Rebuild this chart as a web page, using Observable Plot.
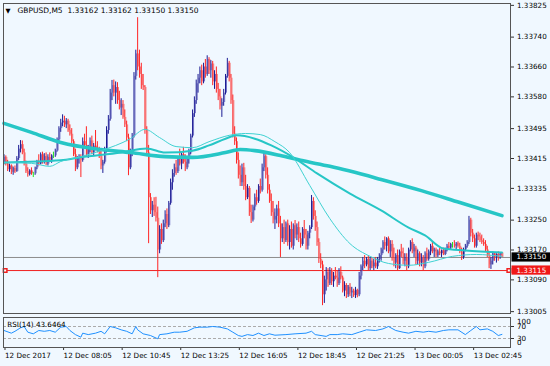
<!DOCTYPE html>
<html><head><meta charset="utf-8">
<script src="https://cdn.jsdelivr.net/npm/d3@7"></script>
<script src="https://cdn.jsdelivr.net/npm/@observablehq/plot@0.6"></script>
<style>
html,body{margin:0;padding:0;background:#f0f8ff;}
#chart svg{display:block;}
</style></head><body><div id="chart"></div>
<script>
// ---- data ----
const symbol = "GBPUSD,M5";
const base = 1.33; // bar prices stored in points (0.00001) above 1.33000
const opens = [
405,418,400,385,395,378,388,380,415,440,
452,430,400,380,372,382,374,374,390,405,
400,425,405,420,400,418,410,422,422,435,
465,495,510,515,505,515,490,480,460,425,
390,415,420,410,460,450,425,440,462,430,
448,442,435,420,395,405,440,490,520,590,
610,590,605,570,550,560,525,505,470,390,
430,475,635,695,660,640,610,605,490,430,
310,275,290,270,255,170,225,195,240,265,
235,295,350,375,390,380,415,400,425,405,
390,415,430,475,535,570,615,630,650,620,
660,640,680,650,668,620,640,600,580,555,
565,590,635,670,630,570,480,460,410,370,
350,390,340,310,335,270,250,285,310,300,
340,330,390,420,370,330,300,270,250,260,
280,240,200,230,195,240,190,225,180,235,
210,230,200,185,225,210,180,215,230,300,
260,230,190,145,130,50,90,110,80,115,
85,100,95,80,110,95,60,75,50,70,
55,60,48,62,50,100,125,140,130,145,
120,140,125,135,125,145,155,170,190,180,
200,165,185,150,135,155,120,165,160,140,
150,125,170,190,165,175,140,160,135,150,
125,160,145,165,180,165,170,155,165,160,
168,158,172,180,175,185,185,180,188,180,
165,150,170,180,190,250,215,200,180,210,
205,195,190,185,170,155,130,140,160,150,
158,155,162];
const highs = [
425,422,410,400,398,392,395,420,450,463,
462,440,408,390,385,390,378,392,410,425,
430,432,428,430,425,430,425,432,440,470,
500,520,532,528,522,520,505,495,465,440,
420,425,425,470,480,500,450,470,475,455,
490,460,445,440,410,445,500,530,600,624,
625,620,618,595,575,570,545,515,480,440,
482,645,705,792,705,670,640,610,500,450,
321,300,310,311,285,235,240,250,275,280,
300,360,385,400,410,420,440,430,445,425,
420,440,480,545,580,625,640,660,665,670,
680,690,685,677,675,650,660,616,600,575,
600,640,683,675,640,585,500,470,430,395,
400,402,370,345,340,290,290,320,330,345,
360,400,430,425,390,345,320,300,280,290,
300,260,240,250,245,250,235,245,240,249,
240,245,215,230,249,225,220,235,316,310,
275,245,200,160,140,100,123,120,123,120,
110,123,115,120,125,100,85,80,75,80,
70,65,70,65,110,130,150,155,150,155,
150,150,145,150,150,160,175,195,205,203,
205,195,195,175,160,170,170,185,175,160,
160,175,195,200,185,180,170,165,160,155,
165,175,170,185,190,175,175,170,175,170,
175,175,185,190,188,190,195,190,192,188,
175,175,185,195,260,255,225,210,215,218,
215,210,200,195,180,165,150,165,162,160,
165,162,162];
const lows = [
398,395,380,378,372,370,375,378,410,430,
425,395,375,365,368,370,364,370,385,395,
398,400,400,396,395,405,402,415,418,432,
460,485,500,498,495,485,475,455,420,380,
385,400,364,405,440,418,415,430,425,420,
438,430,415,385,375,400,430,480,515,570,
580,560,560,545,530,520,498,460,369,385,
420,470,625,650,630,600,597,480,420,187,
265,257,260,245,96,160,185,190,230,225,
230,290,330,365,370,375,395,385,400,380,
385,400,425,470,525,560,590,615,610,615,
630,635,640,630,610,600,590,570,545,525,
555,585,630,620,560,470,450,400,360,340,
340,330,302,305,260,241,245,275,290,295,
320,325,380,360,320,295,260,240,225,240,
230,150,190,185,190,180,170,175,170,200,
195,190,175,180,200,170,170,200,225,250,
220,180,134,120,21,27,60,70,75,75,
70,90,70,75,90,55,45,40,43,45,
40,43,40,42,45,90,115,120,125,115,
115,120,115,120,118,135,140,160,170,165,
160,150,140,125,120,115,118,150,130,125,
115,120,165,160,150,130,130,125,125,115,
120,140,140,155,160,150,150,150,155,150,
155,155,165,170,170,175,175,170,175,160,
142,145,165,175,185,205,190,175,175,195,
190,185,180,165,150,120,118,130,140,135,
140,145,150];
const closes = [
418,400,385,395,378,388,380,415,440,452,
430,400,380,372,382,374,374,390,405,400,
425,405,420,400,418,410,422,422,435,465,
495,510,515,505,515,490,480,460,425,390,
415,420,410,460,450,425,440,462,430,448,
442,435,420,395,405,440,490,520,590,610,
590,605,570,550,560,525,505,470,390,430,
475,635,695,660,640,610,605,490,430,310,
275,290,270,255,170,225,195,240,265,235,
295,350,375,390,380,415,400,425,405,390,
415,430,475,535,570,615,630,650,620,660,
640,680,650,668,620,640,600,580,555,565,
590,635,670,630,570,480,460,410,370,350,
390,340,310,335,270,250,285,310,300,340,
330,390,420,370,330,300,270,250,260,280,
240,200,230,195,240,190,225,180,235,210,
230,200,185,225,210,180,215,230,300,260,
230,190,145,130,50,90,110,80,115,85,
100,95,80,110,95,60,75,50,70,55,
60,48,62,50,100,125,140,130,145,120,
140,125,135,125,145,155,170,190,180,200,
165,185,150,135,155,120,165,160,140,150,
125,170,190,165,175,140,160,135,150,125,
160,145,165,180,165,170,155,165,160,168,
158,172,180,175,185,185,180,188,180,165,
150,170,180,190,250,215,200,180,210,205,
195,190,185,170,155,130,140,160,150,158,
155,162,150];

// moving averages (bar index, price)
const maSlowIdx = [0,15,31,53,69,88,103,121,129,137,151,162,178,206,228,249,272];
const maSlowVal = [1.33509,1.33485,1.33458,1.33439,1.33431,1.33420,1.33418,1.33431,1.33439,1.33436,1.33423,1.33410,1.33394,1.33359,1.33329,1.33297,1.33262];
const maMidIdx = [0,31,42,64,78,88,103,112,121,127,137,146,158,171,189,206,221,230,240,252,272];
const maMidVal = [1.33404,1.33410,1.33418,1.33431,1.33442,1.33431,1.33436,1.33450,1.33468,1.33477,1.33468,1.33450,1.33418,1.33375,1.33321,1.33276,1.33230,1.33209,1.33174,1.33169,1.33163];
const maFastIdx = [0,15,25,31,42,53,69,77,85,94,103,112,123,132,140,148,156,167,178,189,200,210,221,232,245,258,272];
const maFastVal = [1.33404,1.33402,1.33394,1.33407,1.33420,1.33436,1.33468,1.33493,1.33471,1.33447,1.33444,1.33460,1.33477,1.33482,1.33479,1.33460,1.33431,1.33343,1.33254,1.33187,1.33153,1.33134,1.33129,1.33137,1.33153,1.33158,1.33153];

// RSI(14)
const rsiIdx = [0,4,6,9,11,13,16,19,22,25,28,31,34,36,39,42,43,46,50,53,55,58,61,64,67,70,72,73,76,80,84,85,89,93,96,100,104,107,111,114,118,122,125,128,130,133,136,139,142,145,148,154,159,165,168,170,176,178,182,185,190,194,198,203,207,210,214,218,221,225,229,232,236,240,243,248,252,255,258,260,264,267,270,272];
const rsiVal = [56.7,47.8,54,65.6,70,51,45.6,56.7,54,56.7,51,67.8,70,56.7,43,34.4,47.8,43,47.8,54,45.6,70,65.6,58.9,54,45.6,70,58.9,45.6,40,29,43,45.6,51,51,54,65.6,67.8,67.8,70,67.8,62,51,40,37,43,40,47.8,40,45.6,41,43,45.6,47.8,54,43,37,43,43,45.6,43,51,58.9,56.7,62,70,56.7,51,47.8,54,51,54,51,56.7,58.9,58.9,43,56.7,70,58.9,62,54,40,43.6];
const rsiLast = "43.6464";
const rsiLevels = [70, 30];
const rsiBounds = [100, 0];

const priceTicks = [1.33825,1.33740,1.33660,1.33580,1.33495,1.33415,1.33335,1.33250,1.33170,1.33090,1.33005];
const bidPrice = 1.33150;
const linePrice = 1.33115;
const timeTickIdx = [0,32,64,96,128,160,192,224,256];
const timeLabels = ["12 Dec 2017","12 Dec 08:05","12 Dec 10:45","12 Dec 13:25","12 Dec 16:05","12 Dec 18:45","12 Dec 21:25","13 Dec 00:05","13 Dec 02:45"];

// ---- build ----
const bars = opens.map((o, i) => ({
  i, open: base + o / 1e5, high: base + highs[i] / 1e5, low: base + lows[i] / 1e5, close: base + closes[i] / 1e5
}));
const dir = d => d.close > d.open ? "up" : d.close < d.open ? "down" : "doji";
const wickColor = {up: "#1c1c94", down: "#ff2424", doji: "#1ee01e"};
const bodyColor = {up: "#7474c6", down: "#f58080", doji: "#90ee90"};
const toPts = (idx, val) => idx.map((i, k) => ({i, v: val[k]}));
const slow = toPts(maSlowIdx, maSlowVal), mid = toPts(maMidIdx, maMidVal), fast = toPts(maFastIdx, maFastVal);
const rsi = toPts(rsiIdx, rsiVal);
const fmt = d3.format(".5f");
const xDomain = [-0.273, 276.68];
const last = bars[bars.length - 1];
const title = `${symbol}\u00a0\u00a0${fmt(last.open)} ${fmt(last.high)} ${fmt(last.low)} ${fmt(last.close)}`;
const style = {background: "#f0f8ff", fontFamily: "DejaVu Sans, sans-serif", fontSize: "7.2px", color: "#000", overflow: "visible"};
const cyan = "#26c6c6";

const main = Plot.plot({
  width: 550, height: 316, marginTop: 3, marginBottom: 3, marginLeft: 3, marginRight: 40,
  style,
  x: {domain: xDomain, axis: null},
  y: {domain: [1.33000, 1.33830], axis: null},
  marks: [
    Plot.ruleY([bidPrice], {stroke: "#8c8c8c"}),
    Plot.ruleY([linePrice], {stroke: "#f02020"}),
    Plot.ruleX(bars, {x: "i", y1: "open", y2: "close", dx: 1, stroke: d => bodyColor[dir(d)], strokeWidth: 1}),
    Plot.ruleX(bars, {x: "i", y1: "low", y2: "high", stroke: d => wickColor[dir(d)], strokeWidth: 1}),
    Plot.line(slow, {x: "i", y: "v", stroke: cyan, strokeWidth: 3.6, curve: "monotone-x"}),
    Plot.line(mid, {x: "i", y: "v", stroke: cyan, strokeWidth: 2, curve: "monotone-x"}),
    Plot.line(fast, {x: "i", y: "v", stroke: "#40d2d2", strokeWidth: 1, curve: "monotone-x"}),
    Plot.dot([xDomain[0] + 0.9, xDomain[1] - 0.9], {x: d => d, y: () => linePrice, symbol: "square", r: 2, fill: "white", stroke: "#f02020"}),
    Plot.axisY({anchor: "right", ticks: priceTicks, tickFormat: fmt, tickSize: 3, tickPadding: 3.5, stroke: "#333", label: null}),
    Plot.frame({stroke: "#555"}),
    Plot.text(["\u25BC"], {frameAnchor: "top-left", dx: 2, dy: 4.5, fontSize: 6.5}),
    Plot.text([title], {frameAnchor: "top-left", dx: 14, dy: 4.2, fontSize: 7.5})
  ]
});

// price labels in the right margin, placed with the plot's own y scale
const ySc = main.scale("y");
const sel = d3.select(main);
[[bidPrice, "#000000"], [linePrice, "#f01818"]].forEach(([p, c]) => {
  const y = ySc.apply(p);
  sel.append("rect").attr("x", 511.5).attr("y", y - 4.6).attr("width", 38.5).attr("height", 9.2).attr("fill", c);
  sel.append("text").attr("x", 516.5).attr("y", y).attr("dy", "0.35em").attr("text-anchor", "start")
    .attr("fill", "white").text(fmt(p));
});

const rsiPlot = Plot.plot({
  width: 550, height: 50, marginTop: 1, marginBottom: 19, marginLeft: 3, marginRight: 40,
  style,
  x: {domain: xDomain, axis: null},
  y: {domain: [0, 100], axis: null},
  marks: [
    Plot.ruleY(rsiLevels, {stroke: "#ababab", strokeDasharray: "3,2"}),
    Plot.line(rsi, {x: "i", y: "v", stroke: "#1e90ff", strokeWidth: 1}),
    Plot.text([`RSI(14) ${rsiLast}`], {frameAnchor: "top-left", dx: 3.7, dy: 4}),
    Plot.axisY(rsiLevels, {anchor: "right", tickSize: 3, tickPadding: 3.5, stroke: "#333", label: null}),
    Plot.text([rsiBounds[0]], {y: d => d, frameAnchor: "right", dx: 6.5, dy: 4.5, textAnchor: "start"}),
    Plot.text([rsiBounds[1]], {y: d => d, frameAnchor: "right", dx: 6.5, dy: -5, textAnchor: "start"}),
    Plot.axisX({anchor: "bottom", ticks: timeTickIdx, tickFormat: d => timeLabels[timeTickIdx.indexOf(d)], tickSize: 3, tickPadding: 2, textAnchor: "start", dx: 1, stroke: "#333", label: null}),
    Plot.frame({stroke: "#555"})
  ]
});

const host = document.getElementById("chart");
host.append(main, rsiPlot);
</script>
</body></html>
